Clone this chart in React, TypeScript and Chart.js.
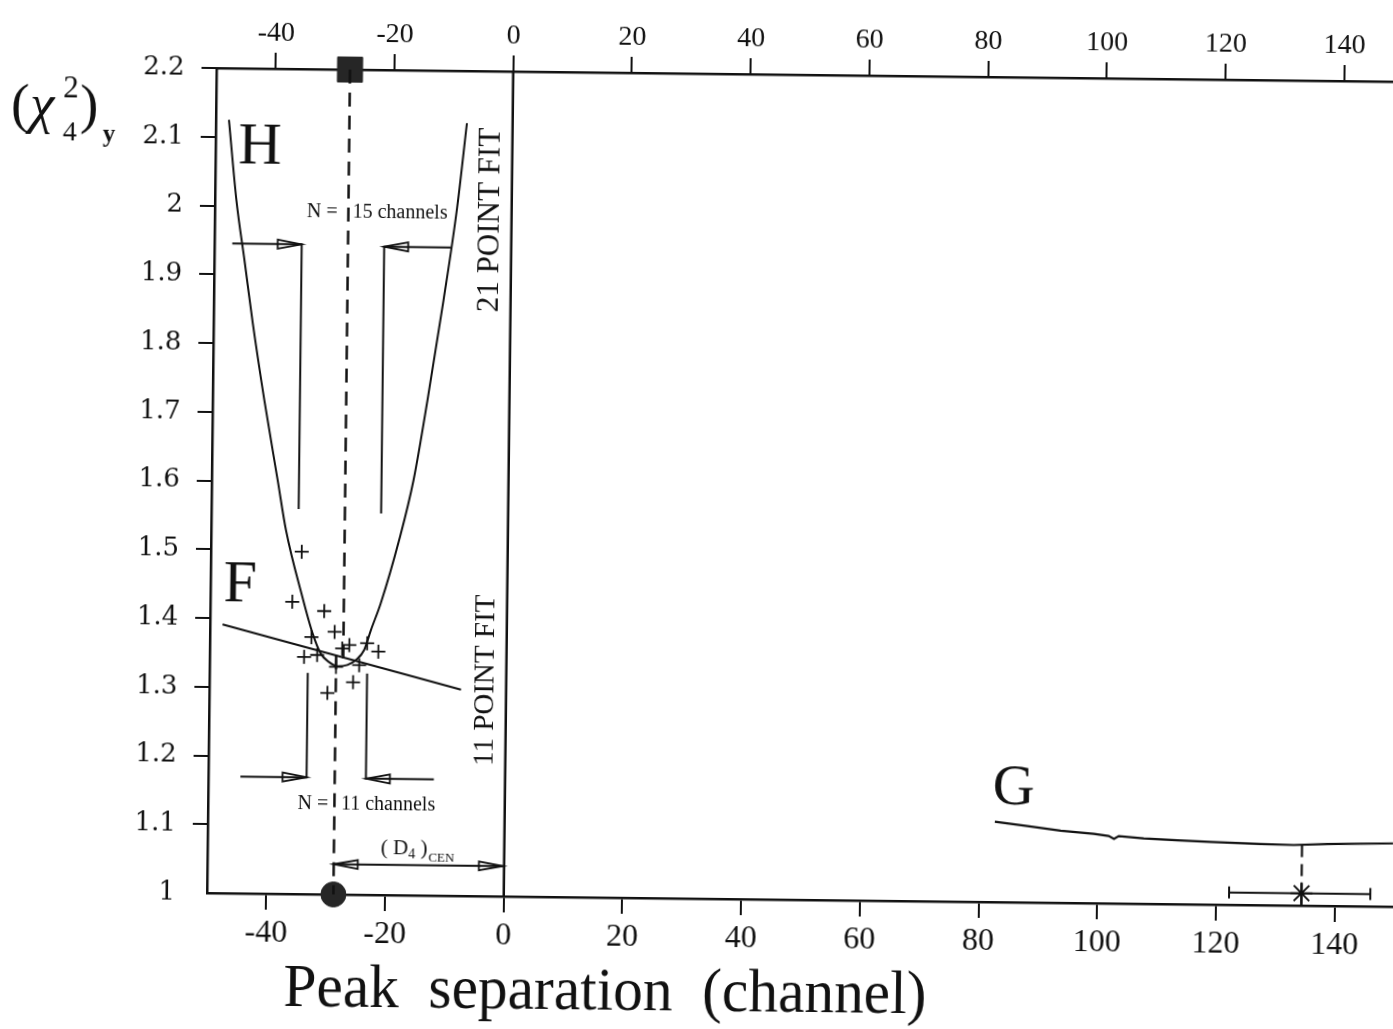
import React, { useEffect, useRef } from 'react';
import { Chart, registerables } from 'chart.js';

Chart.register(...registerables);

// ---- axis ticks ----
const xTickValues = [-40, -20, 0, 20, 40, 60, 80, 100, 120, 140];
const yTickValues = [1, 1.1, 1.2, 1.3, 1.4, 1.5, 1.6, 1.7, 1.8, 1.9, 2, 2.1, 2.2];

// ---- curve H (21 point fit) ----
const hCurveX = [-47.8, -46.4, -44.9, -43.4, -41.3, -38.9, -37.4, -34.5, -32.7, -31.3, -29.9, -28.4, -26.8, -25.4, -24.0, -22.9, -21.3, -18.3, -16.0, -13.8, -11.3, -9.2, -7.7];
const hCurveY = [2.125, 2.009, 1.920, 1.830, 1.718, 1.602, 1.529, 1.432, 1.379, 1.350, 1.338, 1.332, 1.334, 1.341, 1.356, 1.385, 1.424, 1.517, 1.604, 1.721, 1.866, 2.000, 2.124];

// ---- line F (11 point fit) ----
const fLineX = [-47.9, -7.6];
const fLineY = [1.391, 1.300];

// ---- measured points (+) ----
const fitPointsX = [-34.7, -36.2, -30.8, -29.0, -32.9, -34.1, -31.9, -27.7, -26.5, -23.5, -21.6, -24.8, -25.8, -30.1, -28.7];
const fitPointsY = [1.498, 1.425, 1.412, 1.382, 1.374, 1.345, 1.348, 1.358, 1.363, 1.366, 1.354, 1.334, 1.309, 1.293, 1.331];

// ---- curve G ----
const gCurveX = [82.6, 88.1, 93.7, 99.3, 101.8, 102.7, 103.5, 107.7, 113.4, 119.0, 127.4, 133.0, 138.7, 149.8];
const gCurveY = [1.117, 1.111, 1.105, 1.101, 1.098, 1.094, 1.098, 1.095, 1.093, 1.091, 1.089, 1.088, 1.090, 1.092];

// ---- minima / results ----
const hMinimumX = -27.5;
const hMinimumY = 1.332;
const fMinimumX = -28.7;
const fCrossY = 1.348;
const gMinimumX = 134.4;
const gMinimumY = 1.088;
const gResultY = 1.018;
const gErrorLow = 122.2;
const gErrorHigh = 146.0;
const d4ArrowY = 1.044;
const d4ArrowEnd = -0.2;

// ---- N-channel brackets (x1 -> x2 horizontal at y1, then vertical to y2) ----
const n15LeftBracket = { x: [-47.0, -35.3], y: [1.945, 1.56] };
const n15RightBracket = { x: [-10.2, -21.4], y: [1.943, 1.555] };
const n11LeftBracket = { x: [-44.6, -33.45], y: [1.170, 1.322] };
const n11RightBracket = { x: [-12.0, -23.45], y: [1.169, 1.322] };

const CANVAS_W = 1430;
const CANVAS_H = 1029;
const AREA_LEFT = 207;
const AREA_TOP = 68;
const AREA_BOTTOM = 893;
const AREA_RIGHT = 1394;
const INK = '#111111';
const SERIF = '"Liberation Serif", "Times New Roman", serif';

const pts = (xs: number[], ys: number[]) => xs.map((x, i) => ({ x, y: ys[i] }));
const bracketPts = (b: { x: number[]; y: number[] }) => [
  { x: b.x[0], y: b.y[0] },
  { x: b.x[1], y: b.y[0] },
  { x: b.x[1], y: b.y[1] },
];

const lineDs = (data: any[], extra: any = {}) => ({
  data,
  showLine: true,
  borderColor: INK,
  borderWidth: 2,
  pointRadius: 0,
  fill: false,
  tension: 0,
  ...extra,
});

const annotationPlugin = {
  id: 'annot',
  afterDatasetsDraw(chart: any) {
    const { ctx } = chart;
    const xs = chart.scales.x;
    const ys = chart.scales.y;
    const px = (v: number) => xs.getPixelForValue(v);
    const py = (v: number) => ys.getPixelForValue(v);
    ctx.save();
    ctx.fillStyle = INK;
    ctx.strokeStyle = INK;

    // big letters
    ctx.textAlign = 'center';
    ctx.textBaseline = 'middle';
    ctx.font = `60px ${SERIF}`;
    ctx.fillText('H', px(-42.5), py(2.0845));
    ctx.fillText('F', px(-45.0), py(1.447));
    ctx.font = `58px ${SERIF}`;
    ctx.fillText('G', px(85.7), py(1.1647));

    // N = ... channels
    ctx.textAlign = 'left';
    ctx.font = `20px ${SERIF}`;
    ctx.fillText('N =', px(-34.5), py(1.992));
    ctx.fillText('15 channels', px(-26.8), py(1.992));
    ctx.fillText('N =', px(-34.9), py(1.131));
    ctx.fillText('11 channels', px(-27.6), py(1.131));

    // (D4)CEN
    let cx = px(-20.8);
    const cy = py(1.068);
    ctx.font = `21px ${SERIF}`;
    ctx.fillText('( D', cx, cy);
    cx += ctx.measureText('( D').width;
    ctx.font = `14px ${SERIF}`;
    ctx.fillText('4', cx, cy + 6);
    cx += ctx.measureText('4').width;
    ctx.font = `21px ${SERIF}`;
    ctx.fillText(' )', cx, cy);
    cx += ctx.measureText(' )').width;
    ctx.font = `13px ${SERIF}`;
    ctx.fillText('CEN', cx + 1, cy + 9);

    // rotated fit labels
    ctx.textAlign = 'center';
    ctx.font = `31px ${SERIF}`;
    const vText = (t: string, vx: number, vy: number) => {
      ctx.save();
      ctx.translate(px(vx), py(vy));
      ctx.rotate(-Math.PI / 2);
      ctx.fillText(t, 0, 0);
      ctx.restore();
    };
    vText('21 POINT FIT', -3.5, 1.9836);
    ctx.font = `29px ${SERIF}`;
    vText('11 POINT FIT', -3.45, 1.314);

    // open arrow heads
    ctx.lineWidth = 1.8;
    const head = (vx: number, vy: number, dir: number) => {
      const tx = px(vx);
      const ty = py(vy);
      const len = 24;
      const hw = 4.5;
      ctx.beginPath();
      ctx.moveTo(tx, ty);
      ctx.lineTo(tx - dir * len, ty - hw);
      ctx.lineTo(tx - dir * len, ty + hw);
      ctx.closePath();
      ctx.stroke();
    };
    const bHead = (b: { x: number[]; y: number[] }) => head(b.x[1], b.y[0], b.x[1] > b.x[0] ? 1 : -1);
    bHead(n15LeftBracket);
    bHead(n15RightBracket);
    bHead(n11LeftBracket);
    bHead(n11RightBracket);
    head(fMinimumX, d4ArrowY, -1);
    head(d4ArrowEnd, d4ArrowY, 1);
    ctx.restore();
  },
  afterDraw(chart: any) {
    const { ctx } = chart;
    ctx.save();
    ctx.fillStyle = INK;
    ctx.textBaseline = 'alphabetic';
    ctx.textAlign = 'left';

    // x axis title (slightly condensed like the original print)
    const title = 'Peak  separation  (channel)';
    ctx.font = `62px ${SERIF}`;
    const w = ctx.measureText(title).width;
    const target = 643;
    ctx.save();
    ctx.translate(606, 1005);
    ctx.scale(target / w, 1);
    ctx.textAlign = 'center';
    ctx.fillText(title, 0, 0);
    ctx.restore();

    // y axis title (chi^2_4)_y
    ctx.font = `55px ${SERIF}`;
    ctx.fillText('(', 2, 124);
    ctx.font = `italic 55px ${SERIF}`;
    ctx.fillText('\u03C7', 21, 124);
    ctx.font = `31px ${SERIF}`;
    ctx.fillText('2', 54, 99);
    ctx.font = `28px ${SERIF}`;
    ctx.fillText('4', 54, 142);
    ctx.font = `55px ${SERIF}`;
    ctx.fillText(')', 71, 124);
    ctx.font = `bold 25px ${SERIF}`;
    ctx.fillText('y', 94, 143);
    ctx.restore();
  },
};

export default function App() {
  const canvasRef = useRef<HTMLCanvasElement | null>(null);

  useEffect(() => {
    const canvas = canvasRef.current;
    if (!canvas) return;

    const xCommon = {
      type: 'linear' as const,
      min: -50,
      max: 150,
      afterBuildTicks: (s: any) => {
        s.ticks = xTickValues.map((v) => ({ value: v }));
      },
      grid: {
        display: true,
        drawOnChartArea: false,
        drawTicks: true,
        tickLength: 16,
        lineWidth: 2,
        tickColor: INK,
        color: INK,
      },
      border: { display: true, color: INK, width: 2.5 },
    };

    const chart = new Chart(canvas, {
      type: 'scatter',
      data: {
        datasets: [
          lineDs(pts(hCurveX, hCurveY), { cubicInterpolationMode: 'monotone' }),
          lineDs(pts(fLineX, fLineY)),
          lineDs(pts(gCurveX, gCurveY), { borderWidth: 2.2 }),
          lineDs([{ x: 0, y: 1 }, { x: 0, y: 2.2 }], { borderWidth: 2.5 }),
          lineDs([{ x: hMinimumX, y: 2.2 }, { x: hMinimumX, y: hMinimumY }], { borderWidth: 2.5, borderDash: [14, 9] }),
          lineDs([{ x: fMinimumX, y: fCrossY }, { x: fMinimumX, y: 1.0 }], { borderWidth: 2.5, borderDash: [14, 9] }),
          lineDs([{ x: gMinimumX, y: gMinimumY }, { x: gMinimumX, y: gResultY }], { borderWidth: 2.2, borderDash: [12, 7] }),
          lineDs([{ x: gMinimumX, y: gResultY }, { x: gMinimumX, y: 1.0 }], { borderWidth: 2.2 }),
          lineDs(bracketPts(n15LeftBracket)),
          lineDs(bracketPts(n15RightBracket)),
          lineDs(bracketPts(n11LeftBracket)),
          lineDs(bracketPts(n11RightBracket)),
          lineDs([{ x: fMinimumX, y: d4ArrowY }, { x: d4ArrowEnd, y: d4ArrowY }]),
          lineDs([{ x: gErrorLow, y: gResultY }, { x: gErrorHigh, y: gResultY }], {
            pointRadius: 6,
            pointStyle: 'line',
            rotation: 90,
            pointBorderColor: INK,
            pointBorderWidth: 2,
          }),
          {
            data: pts(fitPointsX, fitPointsY),
            showLine: false,
            pointStyle: 'cross',
            pointRadius: 7,
            pointBorderWidth: 1.8,
            pointBorderColor: INK,
            borderColor: INK,
          },
          {
            data: [{ x: gMinimumX, y: gResultY }],
            showLine: false,
            pointStyle: 'star',
            pointRadius: 11,
            pointBorderWidth: 2,
            pointBorderColor: INK,
            borderColor: INK,
            clip: false,
          },
          {
            data: [{ x: hMinimumX, y: 2.2 }],
            showLine: false,
            pointStyle: 'rect',
            pointRadius: 17.7,
            pointBackgroundColor: '#262626',
            pointBorderColor: '#262626',
            pointBorderWidth: 1,
            clip: false,
          },
          {
            data: [{ x: fMinimumX, y: 1.0 }],
            showLine: false,
            pointStyle: 'circle',
            pointRadius: 12.5,
            pointBackgroundColor: '#262626',
            pointBorderColor: '#262626',
            pointBorderWidth: 1,
            clip: false,
          },
        ] as any,
      },
      options: {
        animation: false,
        responsive: false,
        devicePixelRatio: 1,
        events: [],
        layout: { padding: { left: 0, top: 0, right: CANVAS_W - AREA_RIGHT, bottom: 0 } },
        plugins: { legend: { display: false }, tooltip: { enabled: false }, title: { display: false } },
        scales: {
          x: {
            ...xCommon,
            position: 'bottom',
            afterFit: (s: any) => {
              s.height = CANVAS_H - AREA_BOTTOM;
            },
            ticks: {
              color: INK,
              autoSkip: false,
              maxRotation: 0,
              padding: 4,
              font: { family: SERIF, size: 32 },
              callback: (v: any) => String(v),
            },
          },
          x2: {
            ...xCommon,
            position: 'top',
            afterFit: (s: any) => {
              s.height = AREA_TOP;
            },
            ticks: {
              color: INK,
              autoSkip: false,
              maxRotation: 0,
              padding: 3,
              font: { family: SERIF, size: 28 },
              callback: (v: any) => String(v),
            },
          },
          y: {
            type: 'linear',
            position: 'left',
            min: 1,
            max: 2.2,
            afterBuildTicks: (s: any) => {
              s.ticks = yTickValues.map((v) => ({ value: v }));
            },
            afterFit: (s: any) => {
              s.width = AREA_LEFT;
            },
            grid: {
              display: true,
              drawOnChartArea: false,
              drawTicks: true,
              tickLength: 15,
              lineWidth: 2,
              color: INK,
              tickColor: (c: any) => (c.tick && Math.abs(c.tick.value - 1) < 1e-9 ? 'rgba(0,0,0,0)' : INK),
            },
            border: { display: true, color: INK, width: 2.5 },
            ticks: {
              color: INK,
              autoSkip: false,
              padding: 17,
              font: { family: '"DejaVu Serif", serif', size: 26 },
              callback: (v: any) => String(Math.round(Number(v) * 10) / 10),
            },
          },
        },
      } as any,
      plugins: [annotationPlugin],
    });

    return () => chart.destroy();
  }, []);

  return (
    <div
      style={{
        position: 'fixed',
        left: 0,
        top: 0,
        width: 1393,
        height: 1029,
        overflow: 'hidden',
        background: '#ffffff',
      }}
    >
      <div
        style={{
          position: 'absolute',
          left: 0,
          top: 0,
          width: CANVAS_W,
          height: CANVAS_H,
          transform: 'rotate(0.66deg)',
          transformOrigin: `${AREA_LEFT}px ${AREA_BOTTOM}px`,
        }}
      >
        <canvas ref={canvasRef} width={CANVAS_W} height={CANVAS_H} style={{ display: 'block' }} />
      </div>
    </div>
  );
}
